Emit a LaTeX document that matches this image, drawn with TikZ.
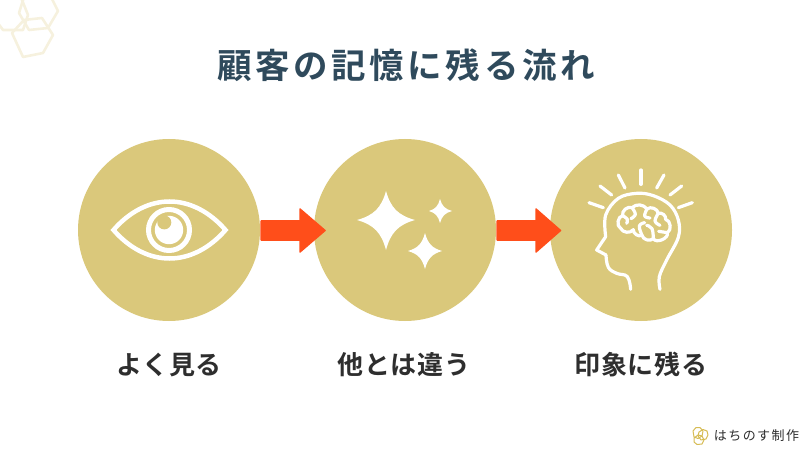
\documentclass[tikz,border=0pt]{standalone}
\usepackage{fontspec}
\setmainfont{Noto Sans CJK JP}
\newfontfamily\titlefont[LetterSpace=10.5]{Noto Sans CJK JP Bold}
\newfontfamily\labelfont[LetterSpace=2]{Noto Sans CJK JP Bold}
\newfontfamily\footfont[LetterSpace=11]{Noto Sans CJK JP}
\definecolor{gold}{HTML}{DAC87B}
\definecolor{flame}{HTML}{FF4E1A}
\definecolor{navy}{HTML}{2F4A5C}
\definecolor{ink}{HTML}{2E2E2E}
\definecolor{hexpale}{HTML}{F6F1DE}
\definecolor{hexgold}{HTML}{D6BC55}
\newcommand{\sparkleshape}[6]{% cx cy left right top bottom
  \fill[white] (#1-#3,#2) .. controls (#1-0.42*#3,#2-0.16*#5) and (#1-0.16*#3,#2-0.42*#5) .. (#1,#2-#5)
   .. controls (#1+0.16*#4,#2-0.42*#5) and (#1+0.42*#4,#2-0.16*#5) .. (#1+#4,#2)
   .. controls (#1+0.42*#4,#2+0.16*#6) and (#1+0.16*#4,#2+0.42*#6) .. (#1,#2+#6)
   .. controls (#1-0.16*#3,#2+0.42*#6) and (#1-0.42*#3,#2+0.16*#6) .. (#1-#3,#2) -- cycle;}
\tikzset{
  disc/.style={circle,fill=gold,minimum size=182pt,inner sep=0pt,draw=none},
  steplabel/.style={font=\labelfont\fontsize{26}{26}\selectfont,text=ink,inner sep=0pt},
  titletext/.style={font=\titlefont\fontsize{34.5}{34.5}\selectfont,text=navy,inner sep=0pt},
  foottext/.style={font=\footfont\fontsize{13}{13}\selectfont,text=ink,inner sep=0pt},
  blockarrow/.style={fill=flame,draw=flame,line width=1.5pt,line join=round},
  iconline/.style={draw=white,line width=3.2pt,line cap=round,line join=round},
  hexline/.style={draw=hexpale,line width=2.6pt,line join=round},
  loghex/.style={draw=hexgold,line width=1pt,line join=round}
}
\begin{document}
\begin{tikzpicture}[x=1pt,y=-1pt]
\useasboundingbox (0,0) rectangle (810,454);
% corner hexagons
\begin{scope}
\clip (0,0) rectangle (810,454);
\draw[hexline] (12,33) -- (24,20) -- (42,18) -- (53,35) -- (43,53) -- (23,57) -- cycle;
\draw[hexline] (24,-3) -- (50,-5) -- (58,11) -- (48,28) -- (29,30) -- (19,13) -- cycle;
\draw[hexline] (-6,18) -- (3,30) -- (23,30) -- (28,15) -- (22,0) -- (18,-8) -- (-8,-8) -- cycle;
\end{scope}
% title
\node[titletext] (title) at (406,65) {顧客の記憶に残る流れ};
% discs
\node[disc] (d1) at (169,230) {};
\node[disc] (d2) at (405,230) {};
\node[disc] (d3) at (641,230) {};
% arrows
\draw[blockarrow] (261,221) -- (300,221) -- (300,209) -- (325,230.5) -- (300,252) -- (300,240) -- (261,240) -- cycle;
\draw[blockarrow] (497,221) -- (536,221) -- (536,209) -- (560.5,230.5) -- (536,252) -- (536,240) -- (497,240) -- cycle;
% eye
\draw[draw=white,line width=4.5pt,line join=miter] (113.5,230) .. controls (130,211) and (150,201.5) .. (169.5,201.5)
   .. controls (189,201.5) and (209,211) .. (225.5,230)
   .. controls (209,249) and (189,258.5) .. (169.5,258.5)
   .. controls (150,258.5) and (130,249) .. (113.5,230) -- cycle;
\draw[white,line width=5pt] (169,230) circle (20.5);
\fill[white] (169,230) circle (14.2);
\fill[gold] (164.3,222.4) circle (7);
% sparkles
\sparkleshape{386}{220}{29}{29}{29}{30}
\sparkleshape{440}{211}{11}{12}{12}{12}
\sparkleshape{425}{251}{17}{17}{18}{18}
% head
\begin{scope}[shift={(570,160)},x=0.3333pt,y=-0.3333pt]
\draw[iconline] plot[smooth,tension=0.6] coordinates {(270,388) (268,350) (290,300) (325,232) (325,180) (300,135) (250,107) (200,100) (145,115) (107,165) (107,230)};
\draw[iconline] (107,230) -- (80,270) -- (108,285);
\draw[iconline] plot[smooth,tension=0.7] coordinates {(108,285) (115,322) (140,340) (172,350) (182,388)};
\draw[iconline] (213,30) -- (213,73);
\draw[iconline] (145,45) -- (165,84);
\draw[iconline] (90,78) -- (125,105);
\draw[iconline] (57,128) -- (100,143);
\draw[iconline] (282,45) -- (260,84);
\draw[iconline] (335,78) -- (300,105);
\draw[iconline] (367,128) -- (325,143);
% brain
\draw[iconline] (152,205) to[bend left=75] (158,167) to[bend left=65] (186,143) to[bend left=50] (231,147) to[bend left=60] (265,160) to[bend left=60] (287,178) to[bend left=70] (292,218) to[bend left=85] (250,236) to[bend left=60] (216,226) to[bend left=60] (190,209) to[bend left=60] cycle;
\draw[iconline] plot[smooth,tension=0.7] coordinates {(158,167) (172,178) (170,190)};
\draw[iconline] plot[smooth,tension=0.7] coordinates {(186,143) (196,163) (183,176)};
\draw[iconline] plot[smooth,tension=0.7] coordinates {(231,147) (224,168) (240,174)};
\draw[iconline] plot[smooth,tension=0.7] coordinates {(265,160) (255,183) (270,196)};
\draw[iconline] plot[smooth,tension=0.7] coordinates {(216,226) (208,198) (224,188)};
\draw[iconline] plot[smooth,tension=0.7] coordinates {(250,236) (246,206) (230,196)};
\draw[iconline] (292,218) -- (266,214);
\end{scope}
% labels
\node[steplabel] (l1) at (169,365) {よく見る};
\node[steplabel] (l2) at (404,365) {他とは違う};
\node[steplabel] (l3) at (641,365) {印象に残る};
% logo
\draw[loghex] (693,431) -- (696,427.5) -- (700,427.5) -- (703,431) -- (702,436) -- (698,438.5) -- (694,437) -- cycle;
\draw[loghex] (699,432) -- (703,429.5) -- (707,431) -- (708,435) -- (706,439) -- (701,440) -- (698,436) -- cycle;
\draw[loghex] (694,438) -- (698,435) -- (702,436) -- (704,440) -- (702,444) -- (697,444.5) -- (694,442) -- cycle;
\node[foottext] (foot) at (756.5,436) {はちのす制作};
\end{tikzpicture}
\end{document}
